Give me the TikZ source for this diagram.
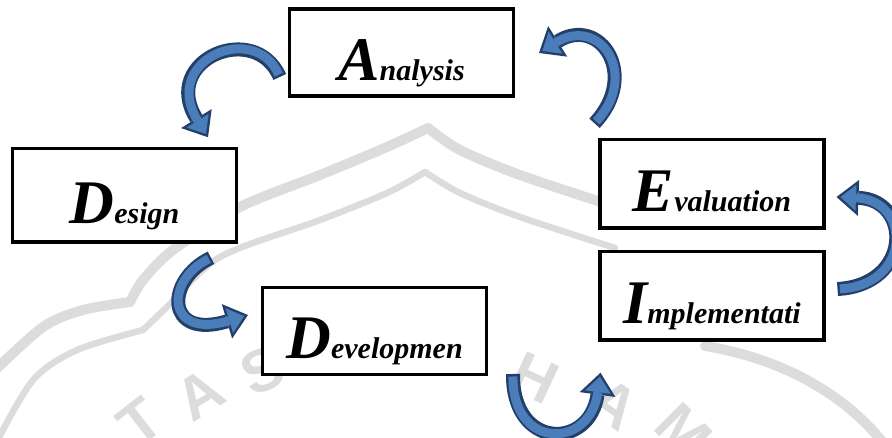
\documentclass[tikz,border=0pt]{standalone}
\usepackage{fontspec}
\setmainfont{Liberation Serif}
\newfontfamily\wmfont{Liberation Sans}
\usetikzlibrary{arrows.meta,calc}

\definecolor{arrowfill}{HTML}{4A7DBA}
\definecolor{arrowedge}{HTML}{23406A}
\definecolor{wmgray}{HTML}{DCDCDC}

\tikzset{
  phase/.style={draw=black, line width=3.5pt, fill=white, inner sep=0pt,
    minimum width=224pt, minimum height=87pt,
    text height=56pt, text depth=0pt, font=\bfseries\itshape},
  bendout/.style={draw=arrowedge, line width=14pt,
    -{Triangle[width=36pt,length=22pt,line width=0pt]}},
  bendin/.style={draw=arrowfill, line width=9pt, shorten <=2.5pt, shorten >=4pt,
    -{Triangle[width=26pt,length=15.5pt,line width=0pt]}},
  wmline/.style={draw=wmgray, line width=10pt, line cap=round},
  wmletter/.style={text=wmgray, inner sep=0pt,
    font=\wmfont\bfseries\fontsize{60}{60}\selectfont}
}
\newcommand{\phasetext}[2]{{\fontsize{62}{62}\selectfont #1}{\fontsize{30}{30}\selectfont #2}}
\newcommand{\bentarrow}[1]{\draw[bendout] #1; \draw[bendin] #1;}

\begin{document}
\begin{tikzpicture}[x=1pt,y=-1pt]
\useasboundingbox (0,0) rectangle (892,438);

% watermark
\draw[wmline] plot[smooth] coordinates {(-10,375) (43,327) (83,310) (130,302)};
\draw[wmline] plot[smooth] coordinates {(130,302) (143,280) (173,250) (240,207) (320,175) (387,147) (428,128)};
\draw[wmline] plot[smooth] coordinates {(428,128) (460,150) (520,175) (610,205)};
\draw[wmline, line width=6.5pt] plot[smooth] coordinates {(-5,445) (33,380) (77,350) (143,330)};
\draw[wmline, line width=6.5pt] plot[smooth] coordinates {(143,330) (167,307) (220,257) (320,220) (387,193) (425,172)};
\draw[wmline, line width=6.5pt] plot[smooth] coordinates {(425,172) (460,193) (520,217) (615,248)};
\draw[wmline] (705,346) .. controls (790,360) and (850,400) .. (885,445);
\node[wmletter, rotate=38] (wmT) at (140,422) {T};
\node[wmletter, rotate=32] (wmA) at (200,395) {A};
\node[wmletter, rotate=24] (wmS) at (262,370) {S};
\node[wmletter, rotate=-25] (wmH) at (535,378) {H};
\node[wmletter, rotate=-35] (wmAA) at (614,404) {A};
\node[wmletter, rotate=-45] (wmM) at (684,432) {M};

% phases
\node[phase] (ana) at (401.5,52.5) {\phasetext{A}{nalysis}};
\node[phase, minimum height=93.5pt] (des) at (124.5,195.5) {\phasetext{D}{esign}};
\node[phase] (dev) at (374.5,331) {\phasetext{D}{evelopmen}};
\node[phase, minimum height=88.5pt] (eva) at (712,184) {\phasetext{E}{valuation}};
\node[phase, minimum height=88.5pt] (imp) at (712,296) {\phasetext{I}{mplementati}};

% cycle arrows
\bentarrow{($(ana.west)+(-8,24.5)$) .. controls (255,20) and (160,60) .. ($(des.north)+(83.5,-9.75)$)}
\bentarrow{($(des.south)+(86.5,13.75)$) .. controls (165,280) and (165,340) .. ($(dev.west)+(-12.75,-16)$)}
\bentarrow{($(dev.south east)+(24.75,-2.25)$) .. controls (512,450) and (590,450) .. ($(imp.south west)+(2.25,30.75)$)}
\bentarrow{($(imp.east)+(11.75,-7)$) .. controls (912,285) and (912,200) .. ($(eva.east)+(10.75,13)$)}
\bentarrow{($(eva.north west)+(-3.75,-14.75)$) .. controls (640,75) and (600,15) .. ($(ana.east)+(23.75,0.5)$)}

\end{tikzpicture}
\end{document}
